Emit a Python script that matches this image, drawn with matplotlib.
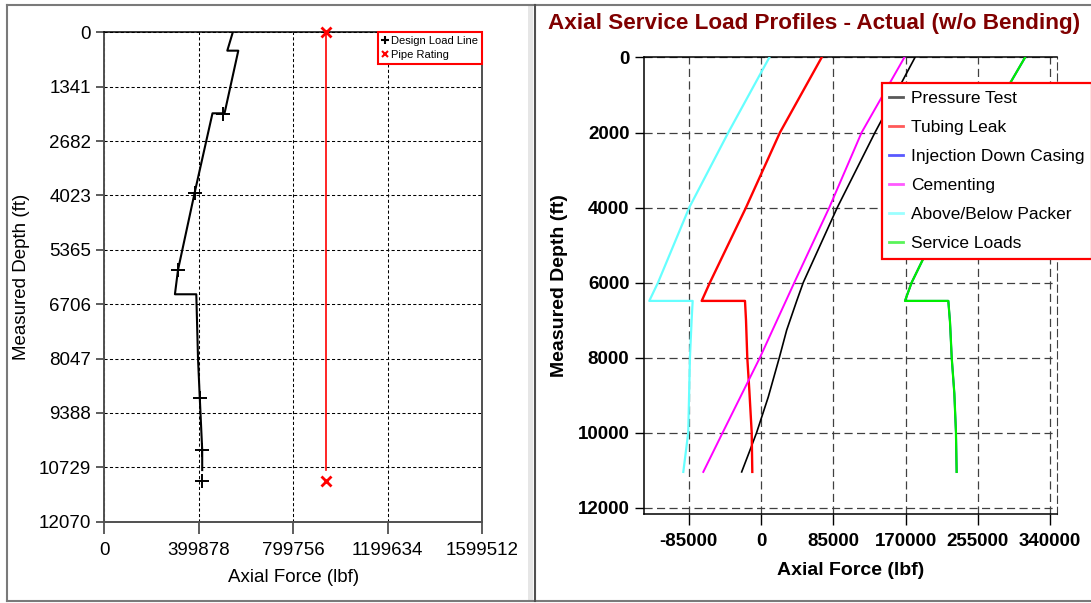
import matplotlib
matplotlib.use('Agg')
import matplotlib.pyplot as plt
from matplotlib.lines import Line2D
from matplotlib.patches import Rectangle

plt.rcParams['font.family'] = ['Liberation Sans', 'DejaVu Sans']

W, H = 1091, 603

# ---- left chart: design load line vs pipe rating
design_depth = [0, 453, 453, 1998, 1998, 3970, 5862, 6461, 6461, 8039, 8986, 10300, 10797]
design_force = [544000, 520700, 567300, 509000, 458000, 382000, 312000, 299000,
                389500, 396700, 404000, 414500, 414500]
design_mark_depth = [2007, 3970, 5862, 9011, 10300, 11065]
design_mark_force = [503000, 382000, 312000, 404000, 414500, 414500]
rating_depth = [0, 10797]
rating_force = [938000, 938000]
rating_mark_depth = [0, 11065]
rating_mark_force = [938000, 938000]
left_yticks = [0, 1341, 2682, 4023, 5365, 6706, 8047, 9388, 10729, 12070]
left_xticks = [0, 399878, 799756, 1199634, 1599512]

# ---- right chart: axial service load profiles
pt_depth = [0, 2000, 4000, 6000, 6490, 7270, 8000, 9050, 10000, 10470, 11050]
pt_force = [181000, 134000, 89700, 49700, 42000, 30200, 21600, 8600, -5100, -12900, -22700]
leak_depth = [0, 2000, 4000, 6000, 6490, 6490, 7000, 8000, 8870, 10000, 11050]
leak_force = [71300, 22300, -17600, -60000, -69700, -18800, -17600, -16100, -13700, -10900, -10200]
inj_depth = [0, 690, 5270, 6000, 6490, 6490, 7050, 8000, 8960, 10000, 11050]
inj_force = [310400, 292700, 192800, 177100, 169300, 220200, 222200, 224200, 227300, 229200, 230000]
cem_depth = [0, 2000, 4000, 6000, 8000, 10000, 11050]
cem_force = [168500, 118300, 80300, 39200, -1200, -45000, -67800]
pkr_depth = [0, 2000, 4000, 6000, 6490, 6490, 7000, 8000, 10000, 11050]
pkr_force = [9800, -38400, -84300, -121000, -131300, -80300, -81500, -83500, -85500, -91300]
svc_depth = [0, 690, 5270, 6000, 6490, 6490, 7050, 8000, 8960, 10000, 11050]
svc_force = [310400, 292700, 192800, 177100, 169300, 220200, 222200, 224200, 227300, 229200, 230000]
right_yticks = [0, 2000, 4000, 6000, 8000, 10000, 12000]
right_xticks = [-85000, 0, 85000, 170000, 255000, 340000]

fig = plt.figure(figsize=(W / 100, H / 100), dpi=100)

def px(x, y):
    return x / W, 1 - y / H

# panel frames
fc = '#7a7a7a'
fig.add_artist(Line2D([px(7, 0)[0], 1], [px(0, 5)[1]] * 2, color=fc, lw=1.5))
fig.add_artist(Line2D([px(7, 0)[0], 1], [px(0, 601)[1]] * 2, color=fc, lw=1.5))
fig.add_artist(Line2D([px(7, 0)[0]] * 2, [px(0, 5)[1], px(0, 601)[1]], color=fc, lw=1.5))
fig.add_artist(Rectangle(px(528, 601), 5 / W, 596 / H, color='#e6e6e6', lw=0))
fig.add_artist(Line2D([px(534.5, 0)[0]] * 2, [px(0, 5)[1], px(0, 601)[1]], color='#505050', lw=1.5))

# ---------------- left axes
axL = fig.add_axes([104.3 / W, 1 - 521.7 / H, 377.8 / W, 489.4 / H])
axL.plot(design_force, design_depth, color='black', lw=1.5, zorder=3)
axL.plot(design_mark_force, design_mark_depth, ls='none', marker='+', ms=9.5, mew=1.4,
         color='black', zorder=4)
axL.plot(rating_force, rating_depth, color='#ff0000', lw=1.2, zorder=3)
axL.plot(rating_mark_force, rating_mark_depth, ls='none', marker='x', ms=7, mew=2,
         color='#ff0000', zorder=4, clip_on=False)
axL.set_xlim(0, 1599512)
axL.set_ylim(12070, 0)
axL.set_xticks(left_xticks)
axL.set_yticks(left_yticks)
axL.set_xticklabels([str(v) for v in left_xticks])
axL.set_yticklabels([str(v) for v in left_yticks])
axL.grid(True, color='black', lw=0.75, linestyle=(0, (3, 2.2)))
axL.tick_params(axis='y', length=6, width=1.3, color='#505050', pad=3.5, labelsize=13.5)
axL.tick_params(axis='x', length=8.5, width=1.3, color='#505050', pad=6, labelsize=13.5)
for s in ['left', 'bottom', 'right']:
    axL.spines[s].set_color('#505050')
    axL.spines[s].set_linewidth(1.4)
axL.spines['top'].set_color('black')
axL.spines['top'].set_linewidth(1.1)
axL.set_ylabel('Measured Depth (ft)', fontsize=13.5, va='center')
axL.yaxis.set_label_coords(-0.218, 0.5)
axL.set_xlabel('Axial Force (lbf)', fontsize=13.5, va='center')
axL.xaxis.set_label_coords(0.5, -0.115)

hL = [Line2D([], [], ls='none', marker='+', ms=6, mew=1.5, color='black'),
      Line2D([], [], ls='none', marker='x', ms=4.5, mew=1.5, color='#ff0000')]
legL = axL.legend(hL, ['Design Load Line', 'Pipe Rating'], loc='upper right',
                  borderaxespad=0, fontsize=8, handlelength=0.5, handletextpad=0.3,
                  borderpad=0.35, labelspacing=0.35, fancybox=False, framealpha=1)
legL.get_frame().set_edgecolor('#ff0000')
legL.get_frame().set_linewidth(1.5)

# ---------------- right axes
axR = fig.add_axes([644 / W, 1 - 514.3 / H, 412.6 / W, 456.8 / H])
series = [
    ('Pressure Test', pt_force, pt_depth, 'black', 1.2),
    ('Tubing Leak', leak_force, leak_depth, '#ff0000', 1.7),
    ('Injection Down Casing', inj_force, inj_depth, '#0000ff', 1.4),
    ('Cementing', cem_force, cem_depth, '#ff00ff', 1.4),
    ('Above/Below Packer', pkr_force, pkr_depth, '#66ffff', 1.6),
    ('Service Loads', svc_force, svc_depth, '#00ee00', 1.6),
]
handles = []
for name, f, d, c, lw in series:
    axR.plot(f, d, color=c, lw=lw, zorder=3)
    handles.append(Line2D([], [], color=c, lw=2, alpha=0.65, label=name))
axR.set_xlim(-137500, 347500)
axR.set_ylim(12180, 0)
axR.set_xticks(right_xticks)
axR.set_yticks(right_yticks)
axR.set_xticklabels([str(v) for v in right_xticks])
axR.set_yticklabels([str(v) for v in right_yticks])
for lab in axR.get_xticklabels() + axR.get_yticklabels():
    lab.set_fontweight('bold')
axR.grid(True, color='#404040', lw=0.9, linestyle=(0, (6.5, 3.5)))
axR.tick_params(axis='y', length=6.5, width=1, pad=4, labelsize=13.5)
axR.tick_params(axis='x', length=8, width=1, pad=5.5, labelsize=13.5)
for s in ['left', 'bottom', 'top']:
    axR.spines[s].set_linewidth(1.1)
axR.spines['right'].set_linestyle((0, (6.5, 3.5)))
axR.spines['right'].set_color('#404040')
axR.set_ylabel('Measured Depth (ft)', fontsize=14, fontweight='bold', va='center')
axR.yaxis.set_label_coords(-0.2053, 0.5)
axR.set_xlabel('Axial Force (lbf)', fontsize=14, fontweight='bold', va='center')
axR.xaxis.set_label_coords(0.5, -0.122)

legR = axR.legend(handles=handles, loc='upper left', bbox_to_anchor=px(881.6, 83.3),
                  bbox_transform=fig.transFigure, fontsize=12.5, handlelength=0.8,
                  handletextpad=0.45, borderpad=0.45, labelspacing=0.8, borderaxespad=0,
                  fancybox=False, framealpha=1)
legR.get_frame().set_edgecolor('#ff0000')
legR.get_frame().set_linewidth(1.6)
legR.set_zorder(10)

fig.text(814 / W, 1 - 23.3 / H, 'Axial Service Load Profiles - Actual (w/o Bending)',
         ha='center', va='center', fontsize=16.2, fontweight='bold', color='#800000')

fig.savefig('out.png', dpi=100)
